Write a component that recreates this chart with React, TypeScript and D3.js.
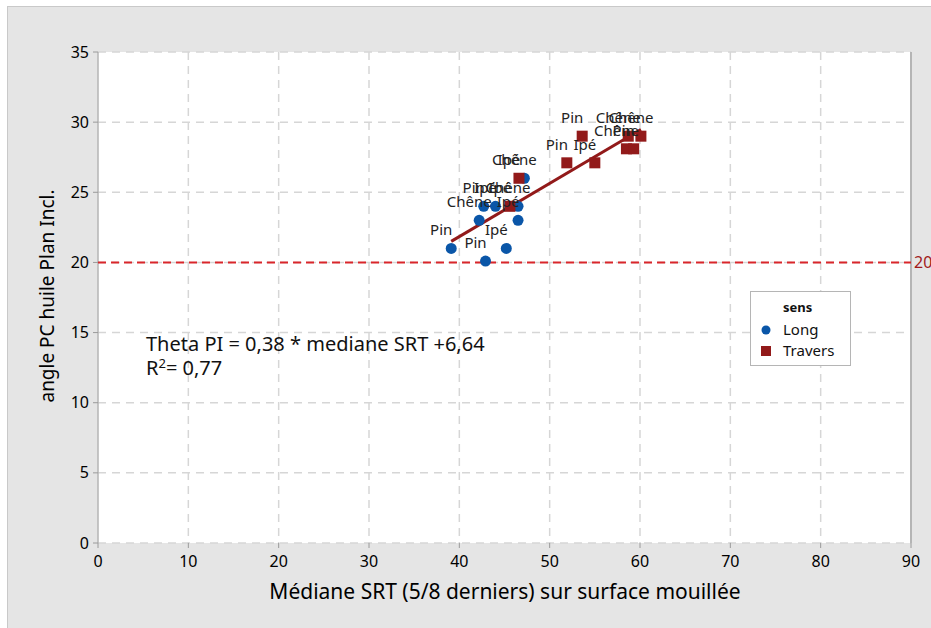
import React from "react";
import { scaleLinear, line } from "d3";

// Long (bois dans le sens des fibres)
const longLabels = ["Pin", "Pin", "Ipé", "Chêne", "Pin", "Ipé", "Chêne", "Ipé", "Chêne"];
const longX = [39.1, 42.9, 45.2, 42.2, 42.7, 44.0, 46.5, 46.5, 47.2];
const longY = [21.0, 20.1, 21.0, 23.0, 24.0, 24.0, 24.0, 23.0, 26.0];

// Travers
const traversLabels = ["Ipé", "Ipé", "Pin", "Ipé", "Pin", "Chêne", "Chêne", "Chêne", "Pin"];
const traversX = [45.6, 46.6, 51.9, 55.0, 53.6, 58.7, 60.1, 58.5, 59.3];
const traversY = [24.0, 26.0, 27.1, 27.1, 29.0, 29.0, 29.0, 28.1, 28.1];

const xTicks = [0, 10, 20, 30, 40, 50, 60, 70, 80, 90];
const yTicks = [0, 5, 10, 15, 20, 25, 30, 35];

const slope = 0.38;
const intercept = 6.64;
const refY = 20;

const W = 931;
const H = 628;
const FONT = "'Noto Sans', 'Open Sans', sans-serif";
const BLUE = "#0a56a8";
const RED = "#921a1a";

export default function App() {
  const x = scaleLinear().domain([0, 90]).range([98, 911]);
  const y = scaleLinear().domain([0, 35]).range([543, 52]);

  const allX = [...longX, ...traversX];
  const x0 = Math.min(...allX);
  const x1 = Math.max(...allX);
  const fit = line<number>()
    .x((d) => x(d))
    .y((d) => y(slope * d + intercept));

  return (
    <div style={{ position: "fixed", left: 0, top: 0 }}>
      <svg width={W} height={H} style={{ display: "block", fontFamily: FONT }}>
        <rect x={0} y={0} width={W} height={H} fill="#ffffff" />
        <rect x={7.5} y={6.5} width={W} height={H} fill="#e5e5e5" stroke="#c9c9c9" />
        <rect x={98} y={52} width={813} height={491} fill="#ffffff" />

        {/* grid */}
        {xTicks.slice(1, -1).map((t) => (
          <line key={`gx${t}`} x1={x(t)} x2={x(t)} y1={52} y2={543}
            stroke="#d6d6d6" strokeWidth={1.5} strokeDasharray="8,6" />
        ))}
        {yTicks.map((t) => (
          <line key={`gy${t}`} x1={98} x2={911} y1={y(t)} y2={y(t)}
            stroke="#d6d6d6" strokeWidth={1.5} strokeDasharray="8,6" />
        ))}

        {/* axes */}
        <line x1={98} x2={98} y1={52} y2={543} stroke="#b5b5b5" strokeWidth={1.5} />
        <line x1={911} x2={911} y1={52} y2={543} stroke="#b5b5b5" strokeWidth={2} />
        {xTicks.map((t) => (
          <g key={`xt${t}`}>
            <line x1={x(t)} x2={x(t)} y1={543} y2={548} stroke="#9a9a9a" />
            <text x={x(t)} y={567} textAnchor="middle" fontSize={16} fill="#000">{t}</text>
          </g>
        ))}
        {yTicks.map((t) => (
          <g key={`yt${t}`}>
            <line x1={93} x2={98} y1={y(t)} y2={y(t)} stroke="#9a9a9a" />
            <text x={89} y={y(t)} dy="0.35em" textAnchor="end" fontSize={16} fill="#000">{t}</text>
          </g>
        ))}

        <text x={505} y={599} textAnchor="middle" fontSize={21} fill="#000">
          Médiane SRT (5/8 derniers) sur surface mouillée
        </text>
        <text transform={`translate(54, 296) rotate(-90)`} textAnchor="middle" fontSize={19} fill="#000">
          angle PC huile Plan Incl.
        </text>

        {/* reference line */}
        <line x1={98} x2={911} y1={y(refY)} y2={y(refY)} stroke="#d9262b" strokeWidth={2} strokeDasharray="8,5" />
        <text x={914} y={y(refY)} dy="0.35em" fontSize={16} fill="#a11a1a">{refY}</text>

        {/* fit */}
        <path d={fit([x0, x1]) ?? ""} fill="none" stroke={RED} strokeWidth={3} />

        {/* points */}
        {longX.map((v, i) => (
          <circle key={`l${i}`} cx={x(v)} cy={y(longY[i])} r={5.5} fill={BLUE} />
        ))}
        {traversX.map((v, i) => (
          <rect key={`t${i}`} x={x(v) - 5.5} y={y(traversY[i]) - 5.5} width={11} height={11} fill={RED} />
        ))}

        {/* labels */}
        {longX.map((v, i) => (
          <text key={`ll${i}`} x={x(v) - 10} y={y(longY[i]) - 13} textAnchor="middle" fontSize={15} fill="#222">
            {longLabels[i]}
          </text>
        ))}
        {traversX.map((v, i) => (
          <text key={`tl${i}`} x={x(v) - 10} y={y(traversY[i]) - 13} textAnchor="middle" fontSize={15} fill="#222">
            {traversLabels[i]}
          </text>
        ))}

        {/* equation */}
        <text x={146} y={351} fontSize={20} fill="#111">Theta PI = 0,38 * mediane SRT +6,64</text>
        <text x={146} y={375} fontSize={20} fill="#111">
          R<tspan dy={-7} fontSize={13}>2</tspan><tspan dy={7}>= 0,77</tspan>
        </text>

        {/* legend */}
        <rect x={750.5} y={291.5} width={100} height={74} fill="#ffffff" stroke="#b5b5b5" />
        <text x={783} y={312} fontSize={13} fontWeight="bold" fill="#111">sens</text>
        <circle cx={766} cy={330} r={4.5} fill={BLUE} />
        <text x={783} y={335} fontSize={15} fill="#111">Long</text>
        <rect x={761} y={346} width={10} height={10} fill={RED} />
        <text x={783} y={356} fontSize={15} fill="#111">Travers</text>
      </svg>
    </div>
  );
}
